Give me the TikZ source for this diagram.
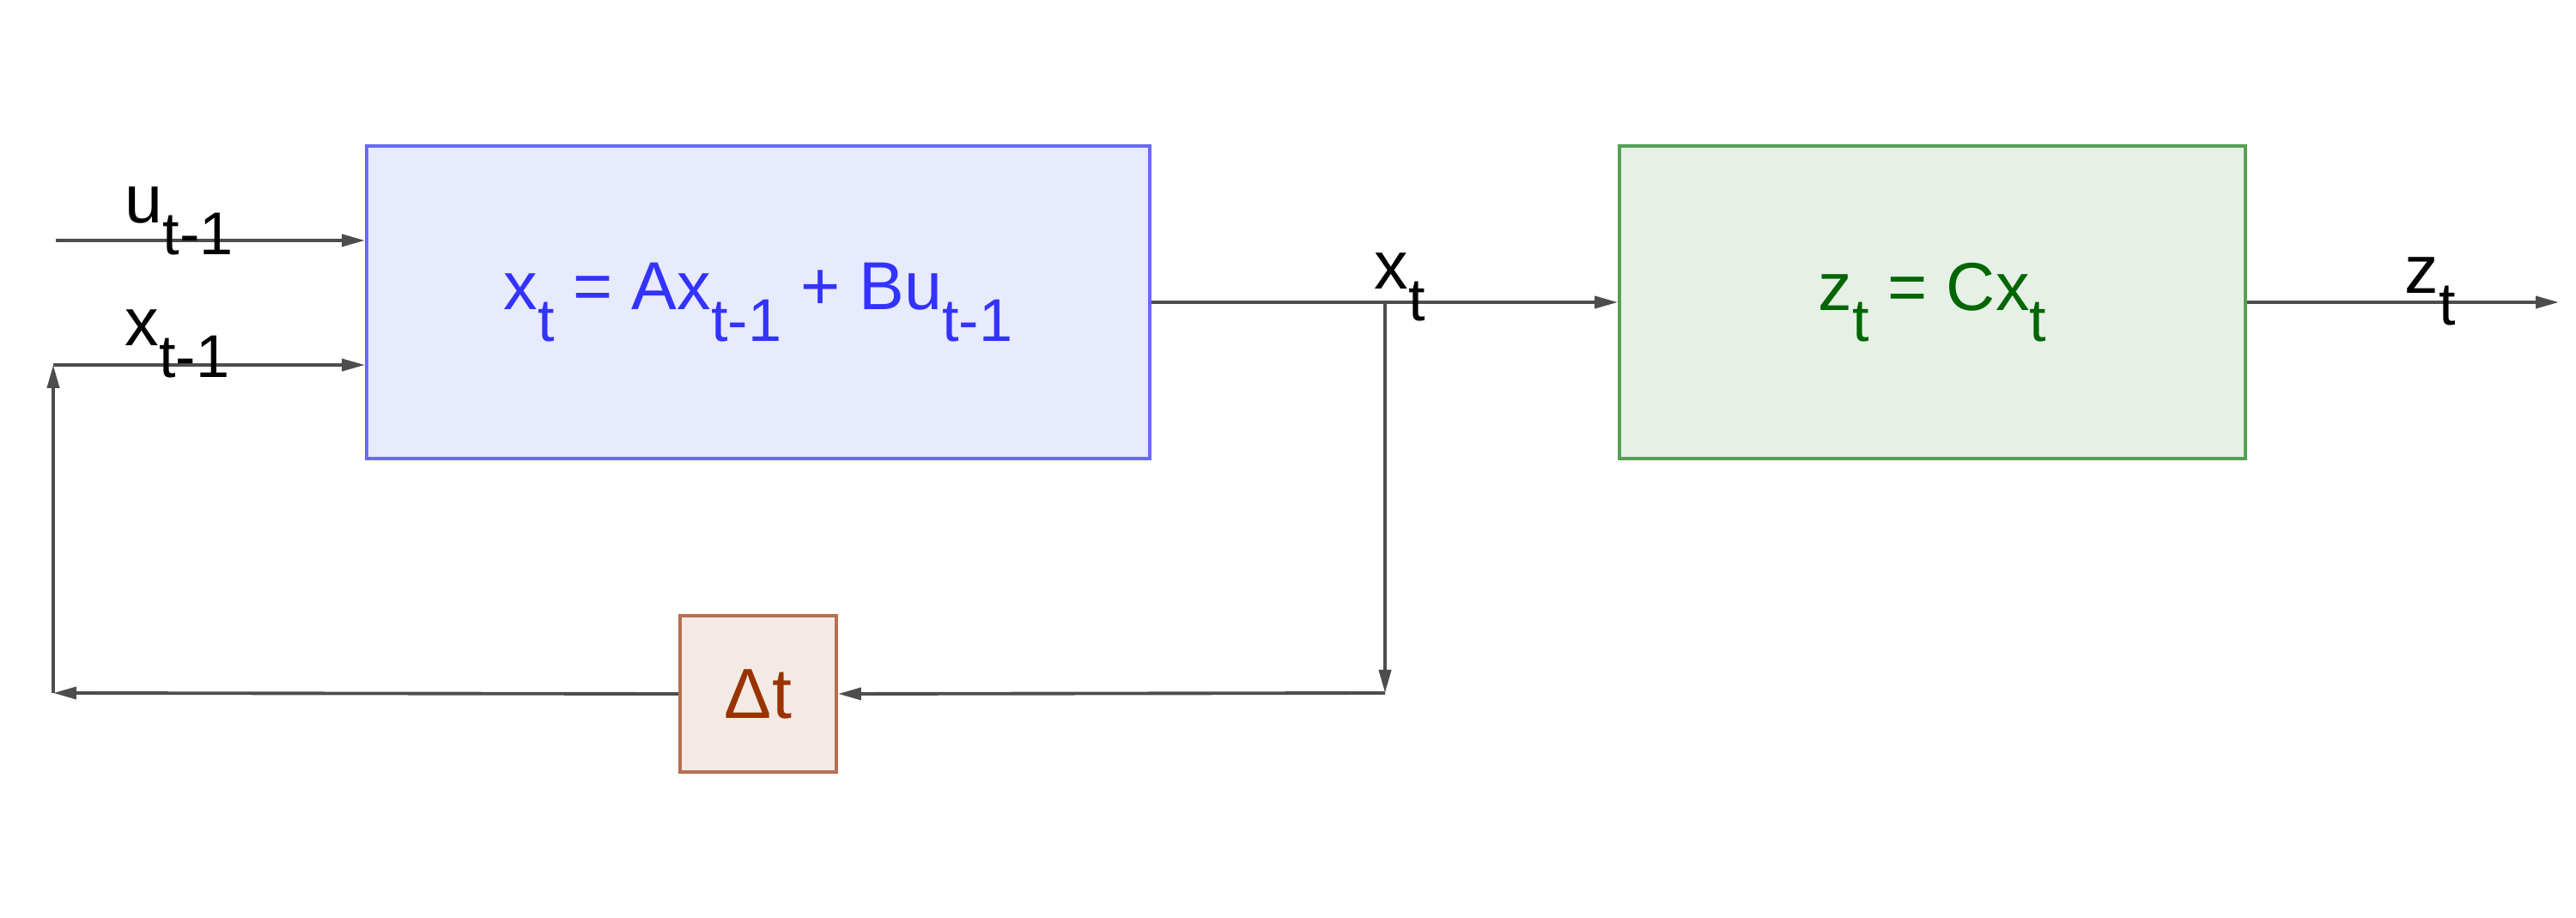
\documentclass[tikz,border=0pt]{standalone}
\usepackage{fontspec}
\setmainfont{Liberation Sans}
\usetikzlibrary{arrows.meta}

\definecolor{linegray}{HTML}{4D4D4D}
\definecolor{stateline}{HTML}{6A6AF5}
\definecolor{statefill}{HTML}{E8EAFD}
\definecolor{statetext}{HTML}{3333FF}
\definecolor{obsline}{HTML}{55A055}
\definecolor{obsfill}{HTML}{E6F0E6}
\definecolor{obstext}{HTML}{006600}
\definecolor{delayline}{HTML}{B86E50}
\definecolor{delayfill}{HTML}{F4EAE5}
\definecolor{delaytext}{HTML}{993300}

% lowered subscript, nearly full size
\newcommand{\lowsub}[1]{\raisebox{-0.46em}{\fontsize{20}{24}\selectfont #1}}

\tikzset{
  block/.style={draw, line width=1.1pt, inner sep=0pt, font=\fontsize{22.5}{27}\selectfont},
  flow/.style={draw=linegray, line width=1.1pt, -{Triangle[length=2.7mm,width=1.4mm]}},
  sig/.style={anchor=base west, inner sep=0pt, font=\fontsize{22.5}{27}\selectfont}
}

\begin{document}
\begin{tikzpicture}
  \useasboundingbox (0,0) rectangle (30,10.68);

  % blocks
  \node[block, draw=stateline, fill=statefill, text=statetext,
        minimum width=9.12cm, minimum height=3.64cm] (state) at (8.83,7.16)
        {x\lowsub{t} = Ax\lowsub{t-1} + Bu\lowsub{t-1}};
  \node[block, draw=obsline, fill=obsfill, text=obstext,
        minimum width=7.29cm, minimum height=3.64cm] (obs) at (22.505,7.16)
        {z\lowsub{t} = Cx\lowsub{t}};
  \node[block, draw=delayline, fill=delayfill, text=delaytext,
        minimum width=1.82cm, minimum height=1.82cm,
        font=\fontsize{23.5}{28}\selectfont] (delay) at (8.83,2.60) {Δt};

  % corner points
  \coordinate (uin) at (0.65,7.88);
  \coordinate (split) at (16.13,7.16);
  \coordinate (splitdown) at (16.13,2.61);
  \coordinate (backleft) at (0.62,2.61);
  \coordinate (backup) at (0.62,6.43);
  \coordinate (zout) at (29.8,7.16);

  % inputs
  \draw[flow] (uin) -- (uin -| state.west);
  \draw[flow] (backup) -- (backup -| state.west);

  % forward path
  \draw[flow] (state.east) -- (obs.west);
  \draw[flow] (obs.east) -- (zout);

  % feedback through the delay
  \draw[flow] (split) -- (splitdown);
  \draw[flow] (splitdown) -- (delay.east);
  \draw[flow] (delay.west) -- (backleft);
  \draw[flow] (backleft) -- (backup);

  % signal labels
  \node[sig] (ulbl) at (1.45,8.08) {u\lowsub{t-1}};
  \node[sig] (xprevlbl) at (1.45,6.65) {x\lowsub{t-1}};
  \node[sig] (xlbl) at (16.00,7.31) {x\lowsub{t}};
  \node[sig] (zlbl) at (28.00,7.26) {z\lowsub{t}};
\end{tikzpicture}
\end{document}
